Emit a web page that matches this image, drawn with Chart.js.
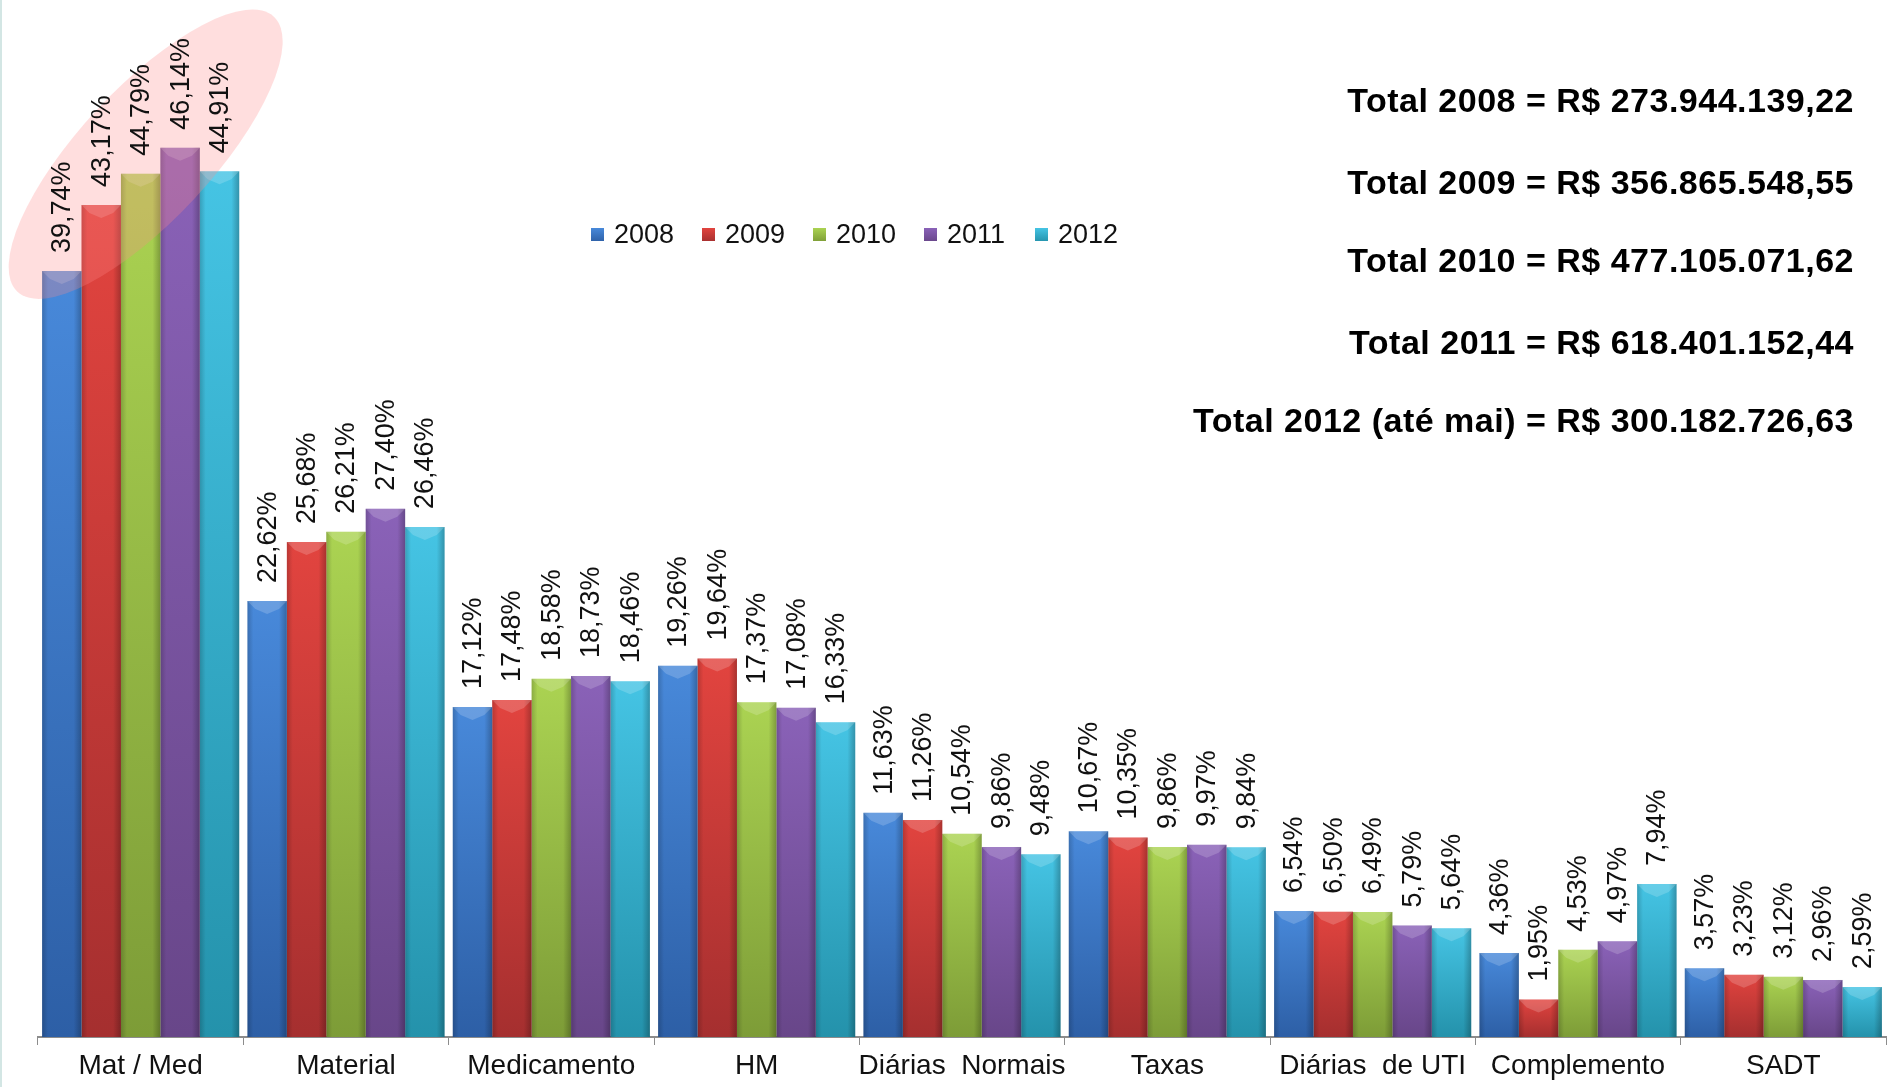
<!DOCTYPE html>
<html>
<head>
<meta charset="utf-8">
<script src="https://cdn.jsdelivr.net/npm/chart.js@4"></script>
<style>
  html, body { margin: 0; padding: 0; background: #fff; }
  #wrap { position: relative; width: 1887px; height: 1087px; }
  #edge { position: absolute; left: 0; top: 0; width: 2px; height: 1087px; background: #d3e6e4; }
  .total {
    position: absolute; right: 33px; white-space: nowrap;
    font-family: "Liberation Sans", Arial, sans-serif; font-weight: bold;
    font-size: 34px; letter-spacing: 0.5px; color: #000; line-height: 40px;
  }
</style>
</head>
<body>
<div id="wrap">
  <canvas id="Custos-Chart"></canvas>
  <div id="edge"></div>
  <div class="total" style="top:80px">Total 2008 = R$ 273.944.139,22</div>
  <div class="total" style="top:162px">Total 2009 = R$ 356.865.548,55</div>
  <div class="total" style="top:240px">Total 2010 = R$ 477.105.071,62</div>
  <div class="total" style="top:322px">Total 2011 = R$ 618.401.152,44</div>
  <div class="total" style="top:400px">Total 2012 (até mai) = R$ 300.182.726,63</div>
</div>
<script>
const labels = ["Mat / Med", "Material", "Medicamento", "HM", "Diárias  Normais",
    "Taxas", "Diárias  de UTI", "Complemento", "SADT"];

const years = ["2008", "2009", "2010", "2011", "2012"];

const v2008 = [39.74, 22.62, 17.12, 19.26, 11.63, 10.67, 6.54, 4.36, 3.57];
const v2009 = [43.17, 25.68, 17.48, 19.64, 11.26, 10.35, 6.50, 1.95, 3.23];
const v2010 = [44.79, 26.21, 18.58, 17.37, 10.54, 9.86, 6.49, 4.53, 3.12];
const v2011 = [46.14, 27.40, 18.73, 17.08, 9.86, 9.97, 5.79, 4.97, 2.96];
const v2012 = [44.91, 26.46, 18.46, 16.33, 9.48, 9.84, 5.64, 7.94, 2.59];

// light (top) / dark (bottom) shade for each year
const colors = [
  { light: "#4889da", dark: "#2d5fa6" },
  { light: "#e2443f", dark: "#a52f2f" },
  { light: "#abd352", dark: "#7d9c37" },
  { light: "#8a62b8", dark: "#684689" },
  { light: "#45c4e4", dark: "#2492ab" },
];

function barFill(ctx) {
  const c = colors[ctx.datasetIndex];
  const chart = ctx.chart;
  if (ctx.type !== "data" || !chart.chartArea || !chart.scales.y) return c.light;
  const y = chart.scales.y;
  const top = y.getPixelForValue(ctx.raw);
  const bottom = y.getPixelForValue(0);
  const g = chart.ctx.createLinearGradient(0, top, 0, bottom);
  g.addColorStop(0, c.light);
  g.addColorStop(1, c.dark);
  return g;
}

const fmt = v => v.toFixed(2).replace(".", ",") + "%";

// shading, highlight ellipse, value labels, legend
const extras = {
  id: "extras",
  afterDatasetsDraw(chart) {
    const ctx = chart.ctx;
    const xs = chart.scales.x, ys = chart.scales.y;

    // darker edges + small bevel on every bar
    chart.data.datasets.forEach((ds, di) => {
      chart.getDatasetMeta(di).data.forEach(bar => {
        const l = bar.x - bar.width / 2;
        const g = ctx.createLinearGradient(l, 0, l + bar.width, 0);
        g.addColorStop(0, "rgba(0,0,0,0.18)");
        g.addColorStop(0.15, "rgba(0,0,0,0)");
        g.addColorStop(0.8, "rgba(0,0,0,0)");
        g.addColorStop(1, "rgba(0,0,0,0.25)");
        ctx.fillStyle = g;
        ctx.fillRect(l, bar.y, bar.width, bar.base - bar.y);
        ctx.beginPath();
        ctx.moveTo(l, bar.y);
        ctx.lineTo(l + bar.width, bar.y);
        ctx.lineTo(l + bar.width * 0.8, bar.y + 8);
        ctx.lineTo(l + bar.width * 0.5, bar.y + 13);
        ctx.lineTo(l + bar.width * 0.2, bar.y + 8);
        ctx.closePath();
        ctx.fillStyle = "rgba(255,255,255,0.18)";
        ctx.fill();
      });
    });

    // pink highlight around Mat / Med
    ctx.save();
    ctx.translate(xs.getPixelForValue(0) + 5, ys.getPixelForValue(45.8));
    ctx.rotate(-47 * Math.PI / 180);
    ctx.beginPath();
    ctx.ellipse(0, 0, 188, 66, 0, 0, Math.PI * 2);
    ctx.fillStyle = "rgba(255,135,135,0.28)";
    ctx.fill();
    ctx.restore();

    // rotated value labels
    ctx.save();
    ctx.fillStyle = "#111";
    ctx.font = "27px 'Liberation Sans', Arial, sans-serif";
    ctx.textAlign = "left";
    ctx.textBaseline = "middle";
    chart.data.datasets.forEach((ds, di) => {
      chart.getDatasetMeta(di).data.forEach((bar, i) => {
        ctx.save();
        ctx.translate(bar.x + 1, bar.y - 18);
        ctx.rotate(-Math.PI / 2);
        ctx.fillText(fmt(ds.data[i]), 0, 0);
        ctx.restore();
      });
    });
    ctx.restore();

    // legend
    ctx.save();
    ctx.font = "27px 'Liberation Sans', Arial, sans-serif";
    ctx.textBaseline = "middle";
    ctx.textAlign = "left";
    let lx = 591;
    const ly = 235;
    years.forEach((yr, i) => {
      const g = ctx.createLinearGradient(0, ly - 7, 0, ly + 7);
      g.addColorStop(0, colors[i].light);
      g.addColorStop(1, colors[i].dark);
      ctx.fillStyle = g;
      ctx.fillRect(lx, ly - 7, 13, 13);
      ctx.fillStyle = "#111";
      ctx.fillText(yr, lx + 23, ly + 1);
      lx += 111;
    });
    ctx.restore();
  }
};

const data = {
  labels: labels,
  datasets: [v2008, v2009, v2010, v2011, v2012].map((vals, i) => ({
    label: years[i],
    data: vals,
    backgroundColor: barFill,
    borderWidth: 0,
    categoryPercentage: 0.96,
    barPercentage: 1.0,
  })),
};

const config = {
  type: "bar",
  data: data,
  options: {
    responsive: true,
    maintainAspectRatio: false,
    animation: false,
    layout: { padding: { left: 38, right: 1, top: 0, bottom: 0 } },
    plugins: {
      legend: { display: false },
      tooltip: { enabled: false },
    },
    scales: {
      x: {
        grid: { display: true, drawOnChartArea: false, color: "#8c8c8c", tickLength: 8, offset: true },
        border: { display: true, color: "#8c8c8c", width: 2 },
        ticks: {
          color: "#111",
          padding: 7,
          maxRotation: 0,
          autoSkip: false,
          font: { family: "'Liberation Sans', Arial, sans-serif", size: 28, lineHeight: 1 },
        },
      },
      y: {
        display: false,
        min: 0,
        max: 53.8,
      },
    },
  },
  plugins: [extras],
};

let myChart = new Chart(document.getElementById("Custos-Chart"), config);
</script>
</body>
</html>
